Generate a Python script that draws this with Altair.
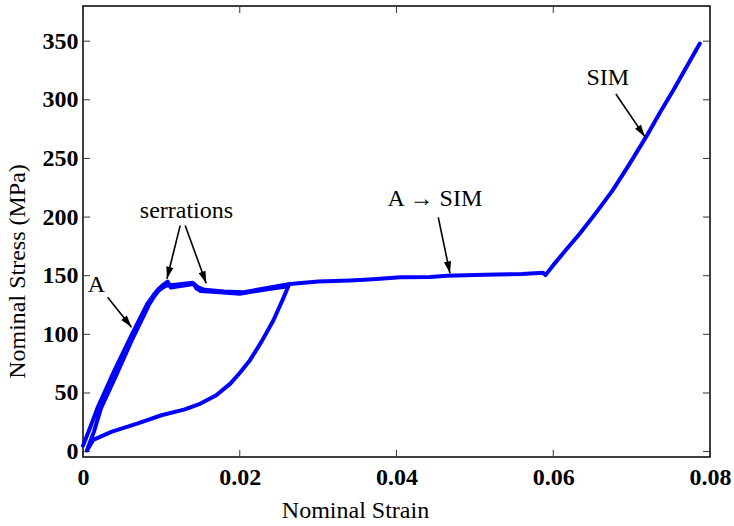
import math
import altair as alt
import pandas as pd

# ---------------- data ----------------
# first loading (A branch + serrated plateau)
load1_strain = [0.0000, 0.0010, 0.0019, 0.0040, 0.0061, 0.0082, 0.0090, 0.0096, 0.0101,
                0.0105, 0.0108, 0.0112, 0.0141, 0.0145, 0.0150, 0.0170, 0.0200, 0.0235, 0.0262]
load1_stress = [5, 22, 38, 69, 98, 126, 133.5, 138.5, 141.5,
                143.5, 145, 140, 143, 139, 137, 136, 134.6, 138.5, 141]
# unloading back to zero
unload_strain = [0.0255, 0.0243, 0.0228, 0.0213, 0.0200, 0.0188, 0.0170, 0.0150, 0.0130,
                 0.0100, 0.0070, 0.0037, 0.0013, 0.0005]
unload_stress = [130, 112, 94, 78, 67, 58, 48, 41, 36,
                 31, 24, 17, 10, 1]
# reloading, plateau (A -> SIM)
reload_strain = [0.0005, 0.0014, 0.0023, 0.0043, 0.0063, 0.0084, 0.0091, 0.0097, 0.0102,
                 0.0106, 0.0110, 0.0115, 0.0140, 0.0147, 0.0155, 0.0180, 0.0205, 0.0235,
                 0.0264, 0.0300, 0.0341, 0.0370, 0.0405, 0.0443, 0.0464, 0.0500, 0.0528,
                 0.0560, 0.0587, 0.0590]
reload_stress = [1, 17, 37, 66, 96, 125, 132.5, 137.5, 140,
                 141.5, 142, 142, 144, 140, 138, 136.5, 136, 139.5,
                 143, 145, 146, 147, 148.7, 149, 150, 150.5, 151,
                 151.5, 152.5, 150.5]
# SIM branch
sim_strain = [0.0600, 0.0615, 0.0634, 0.0655, 0.0676, 0.0698, 0.0719, 0.0736, 0.0753,
              0.0770, 0.0787]
sim_stress = [159, 171, 186, 204, 223, 246, 269, 289, 308, 328, 348]

x_ticks = [0, 0.02, 0.04, 0.06, 0.08]
y_ticks = [0, 50, 100, 150, 200, 250, 300, 350]

ann_text = ["A", "serrations", "A \u2192 SIM", "SIM"]
ann_x = [0.00172, 0.0132, 0.0449, 0.06696]
ann_y = [136.1, 198.8, 209.3, 312.6]

arrow_x0 = [0.00314, 0.0124, 0.01304, 0.04533, 0.06799]
arrow_y0 = [131.7, 192.8, 192.8, 199.8, 304.9]
arrow_x1 = [0.0062, 0.01071, 0.01572, 0.04682, 0.07168]
arrow_y1 = [106.1, 147.4, 143.6, 152.0, 268.6]

# ---------------- layout ----------------
W, H = 627, 451
XMIN, XMAX = 0.0, 0.08
YMIN, YMAX = -4.6, 380.0
FONT = "Liberation Serif"

strain = load1_strain + unload_strain + reload_strain + sim_strain
stress = load1_stress + unload_stress + reload_stress + sim_stress
curve = pd.DataFrame({"strain": strain, "stress": stress, "order": list(range(len(strain)))})

sx = W / (XMAX - XMIN)
sy = H / (YMAX - YMIN)
angles = []
for a, b, c, d in zip(arrow_x0, arrow_y0, arrow_x1, arrow_y1):
    dx = (c - a) * sx
    dy = -(d - b) * sy
    angles.append(math.degrees(math.atan2(dx, -dy)) % 360)
arrows = pd.DataFrame({"x0": arrow_x0, "y0": arrow_y0, "x1": arrow_x1, "y1": arrow_y1,
                       "angle": angles})
labels = pd.DataFrame({"x": ann_x, "y": ann_y, "text": ann_text})
xt = pd.DataFrame({"t": x_ticks})
yt = pd.DataFrame({"t": y_ticks})

xscale = alt.Scale(domain=[XMIN, XMAX], nice=False, zero=False)
yscale = alt.Scale(domain=[YMIN, YMAX], nice=False, zero=False)

xaxis = alt.Axis(title="Nominal Strain", values=x_ticks,
                 labelExpr="datum.value == 0 ? '0' : format(datum.value, '.2f')",
                 ticks=False, tickSize=0, domain=False, grid=False,
                 labelFont=FONT, labelFontWeight="bold", labelFontSize=24, labelColor="black",
                 labelPadding=8, labelFlush=False, labelOverlap=False,
                 titleFont=FONT, titleFontWeight="normal", titleFontSize=24, titleColor="black",
                 titleX=272, titleY=60, titleBaseline="alphabetic", titleAlign="center")
yaxis = alt.Axis(title="Nominal Stress (MPa)", values=y_ticks, format="d",
                 ticks=False, tickSize=0, domain=False, grid=False,
                 labelFont=FONT, labelFontWeight="bold", labelFontSize=24, labelColor="black",
                 labelPadding=5, labelFlush=False, labelOverlap=False,
                 titleFont=FONT, titleFontWeight="normal", titleFontSize=24, titleColor="black",
                 titleX=-66, titleY=265, titleBaseline="middle", titleAlign="center", titleAngle=270)


def X(f):
    return alt.X(f, type="quantitative", scale=xscale, axis=xaxis)


def Y(f):
    return alt.Y(f, type="quantitative", scale=yscale, axis=yaxis)


line = alt.Chart(curve).mark_line(color="#0000ff", strokeWidth=4, strokeJoin="round",
                                  strokeCap="round", interpolate="linear").encode(
    x=X("strain"), y=Y("stress"), order="order:Q")

shafts = alt.Chart(arrows).mark_rule(color="black", strokeWidth=1.6).encode(
    x=X("x0"), y=Y("y0"), x2="x1", y2="y1")

heads = alt.Chart(arrows).mark_point(shape="M0,0L-0.6,2L0.6,2Z", filled=True, color="black",
                                     opacity=1, size=144, strokeWidth=0).encode(
    x=X("x1"), y=Y("y1"), angle=alt.Angle("angle:Q", scale=None))

texts = alt.Chart(labels).mark_text(font=FONT, fontSize=24, color="black", align="center",
                                    baseline="alphabetic").encode(
    x=X("x"), y=Y("y"), text="text:N")

tick_style = dict(color="#333333", strokeWidth=1)
tl = alt.Chart(yt).mark_rule(**tick_style).encode(y=Y("t"), x=alt.value(0), x2=alt.value(7))
tr = alt.Chart(yt).mark_rule(**tick_style).encode(y=Y("t"), x=alt.value(W), x2=alt.value(W - 7))
tb = alt.Chart(xt).mark_rule(**tick_style).encode(x=X("t"), y=alt.value(H), y2=alt.value(H - 7))
tt = alt.Chart(xt).mark_rule(**tick_style).encode(x=X("t"), y=alt.value(0), y2=alt.value(7))

chart = alt.layer(tl, tr, tb, tt, line, shafts, heads, texts).properties(
    width=W, height=H,
    autosize=alt.AutoSizeParams(type="none"),
    padding={"left": 83, "top": 6, "right": 24, "bottom": 69},
    background="white",
).configure_view(stroke="black", strokeWidth=1.5)

chart.save("out.html", embed_options={"renderer": "svg", "actions": False})
